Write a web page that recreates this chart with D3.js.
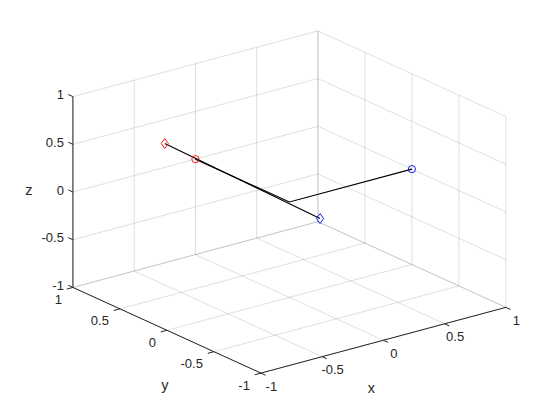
<!DOCTYPE html>
<html>
<head>
<meta charset="utf-8">
<script src="https://cdn.jsdelivr.net/npm/d3@7"></script>
<style>
    body { margin: 0; background: #fff; }
    text { font-family: "Liberation Sans", Arial, sans-serif; fill: #262626; }
</style>
</head>
<body>
<svg id="chart" width="560" height="420"></svg>
<script>
// tick values / labels (same for all three axes)
var ticks = [-1, -0.5, 0, 0.5, 1];
var tickLabels = ["-1", "-0.5", "0", "0.5", "1"];

// path: red circle -> origin -> blue circle
var pathPoints = [[0, 1, 0], [0, 0, 0], [1, 0, 0]];
// straight segment: red diamond -> blue diamond
var segPoints = [[-0.25, 1, 0.25], [0.25, 0, -0.26]];

var circlePts = [[0, 1, 0], [1, 0, 0]];
var circleColors = ["#ff0000", "#0000ff"];
var diamondPts = [[-0.25, 1, 0.25], [0.25, 0, -0.26]];
var diamondColors = ["#ff0000", "#0000ff"];

var svg = d3.select("#chart");
svg.append("rect").attr("width", 560).attr("height", 420).attr("fill", "#fff");

// data -> normalized plot box
var xScale = d3.scaleLinear().domain([-1, 1]).range([-1, 1]);
var yScale = d3.scaleLinear().domain([-1, 1]).range([-1, 1]);
var zScale = d3.scaleLinear().domain([-1, 1]).range([-1.02, 1.02]);

// MATLAB default 3-D view
var az = -37.5 * Math.PI / 180, el = 30 * Math.PI / 180;
var cx = 289.4, cy = 202, sx = 154.4, sy = 108;

function project(p) {
    var u = xScale(p[0]), v = yScale(p[1]), w = zScale(p[2]);
    var h = u * Math.cos(az) + v * Math.sin(az);
    var up = -Math.sin(el) * Math.sin(az) * u + Math.sin(el) * Math.cos(az) * v + Math.cos(el) * w;
    return [cx + sx * h, cy - sy * up];
}

var line = d3.line()
    .x(function (d) { return project(d)[0]; })
    .y(function (d) { return project(d)[1]; });

// grid on the three back planes
var grid = [];
ticks.forEach(function (t) {
    grid.push([[t, 1, -1], [t, 1, 1]]);
    grid.push([[-1, 1, t], [1, 1, t]]);
    grid.push([[1, t, -1], [1, t, 1]]);
    grid.push([[1, -1, t], [1, 1, t]]);
    grid.push([[t, -1, -1], [t, 1, -1]]);
    grid.push([[-1, t, -1], [1, t, -1]]);
});

svg.append("g")
    .attr("id", "grid")
    .selectAll("path")
    .data(grid)
    .enter()
    .append("path")
    .attr("d", line)
    .attr("stroke", "#262626")
    .attr("stroke-opacity", 0.15)
    .attr("stroke-width", 1)
    .attr("fill", "none");

// axis lines
var axes = [
    [[-1, -1, -1], [1, -1, -1]],
    [[-1, -1, -1], [-1, 1, -1]],
    [[-1, 1, -1], [-1, 1, 1]]
];
var L = 0.05;
var tickSegs = [];
ticks.forEach(function (t) {
    tickSegs.push([[t, -1, -1], [t, -1 - L, -1]]);
    tickSegs.push([[-1, t, -1], [-1 - L, t, -1]]);
    tickSegs.push([[-1, 1, t], [-1, 1 + L, t]]);
});

svg.append("g")
    .attr("id", "axes")
    .selectAll("path")
    .data(axes.concat(tickSegs))
    .enter()
    .append("path")
    .attr("d", line)
    .attr("stroke", "#262626")
    .attr("stroke-width", 1)
    .attr("fill", "none");

// tick labels
var labels = svg.append("g").attr("id", "ticklabels").style("font-size", "13px");
ticks.forEach(function (t, i) {
    var px = project([t, -1, -1]);
    labels.append("text")
        .attr("x", px[0] + 10.5).attr("y", px[1] + 13)
        .attr("text-anchor", "middle").attr("dominant-baseline", "central")
        .text(tickLabels[i]);
    var py = project([-1, t, -1]);
    labels.append("text")
        .attr("x", py[0] - 11).attr("y", py[1] + 12)
        .attr("text-anchor", "end").attr("dominant-baseline", "central")
        .text(tickLabels[i]);
    var pz = project([-1, 1, t]);
    labels.append("text")
        .attr("x", pz[0] - 9).attr("y", pz[1] - 2)
        .attr("text-anchor", "end").attr("dominant-baseline", "central")
        .text(tickLabels[i]);
});

// axis labels
var axisTitles = [
    { t: "x", p: [0, -1, -1], dx: -12, dy: 48 },
    { t: "y", p: [-1, 0, -1], dx: -2, dy: 55 },
    { t: "z", p: [-1, 1, 0], dx: -44, dy: -2 }
];
svg.append("g")
    .selectAll("text")
    .data(axisTitles)
    .enter()
    .append("text")
    .attr("x", function (d) { return project(d.p)[0] + d.dx; })
    .attr("y", function (d) { return project(d.p)[1] + d.dy; })
    .attr("text-anchor", "middle")
    .attr("dominant-baseline", "central")
    .style("font-size", "14.5px")
    .text(function (d) { return d.t; });

// data lines
svg.append("path")
    .attr("d", line(pathPoints))
    .attr("stroke", "#000").attr("stroke-width", 1.1).attr("fill", "none");
svg.append("path")
    .attr("d", line(segPoints))
    .attr("stroke", "#000").attr("stroke-width", 1.1).attr("fill", "none");

// markers
svg.append("g")
    .selectAll("circle")
    .data(circlePts)
    .enter()
    .append("circle")
    .attr("cx", function (d) { return project(d)[0]; })
    .attr("cy", function (d) { return project(d)[1]; })
    .attr("r", 3.6)
    .attr("fill", "none")
    .attr("stroke", function (d, i) { return circleColors[i]; })
    .attr("stroke-width", 0.9);

svg.append("g")
    .selectAll("path")
    .data(diamondPts)
    .enter()
    .append("path")
    .attr("d", function (d) {
        var p = project(d);
        return "M" + p[0] + "," + (p[1] - 5) + "L" + (p[0] + 3.6) + "," + p[1] +
            "L" + p[0] + "," + (p[1] + 5) + "L" + (p[0] - 3.6) + "," + p[1] + "Z";
    })
    .attr("fill", "none")
    .attr("stroke", function (d, i) { return diamondColors[i]; })
    .attr("stroke-width", 0.9);
</script>
</body>
</html>
